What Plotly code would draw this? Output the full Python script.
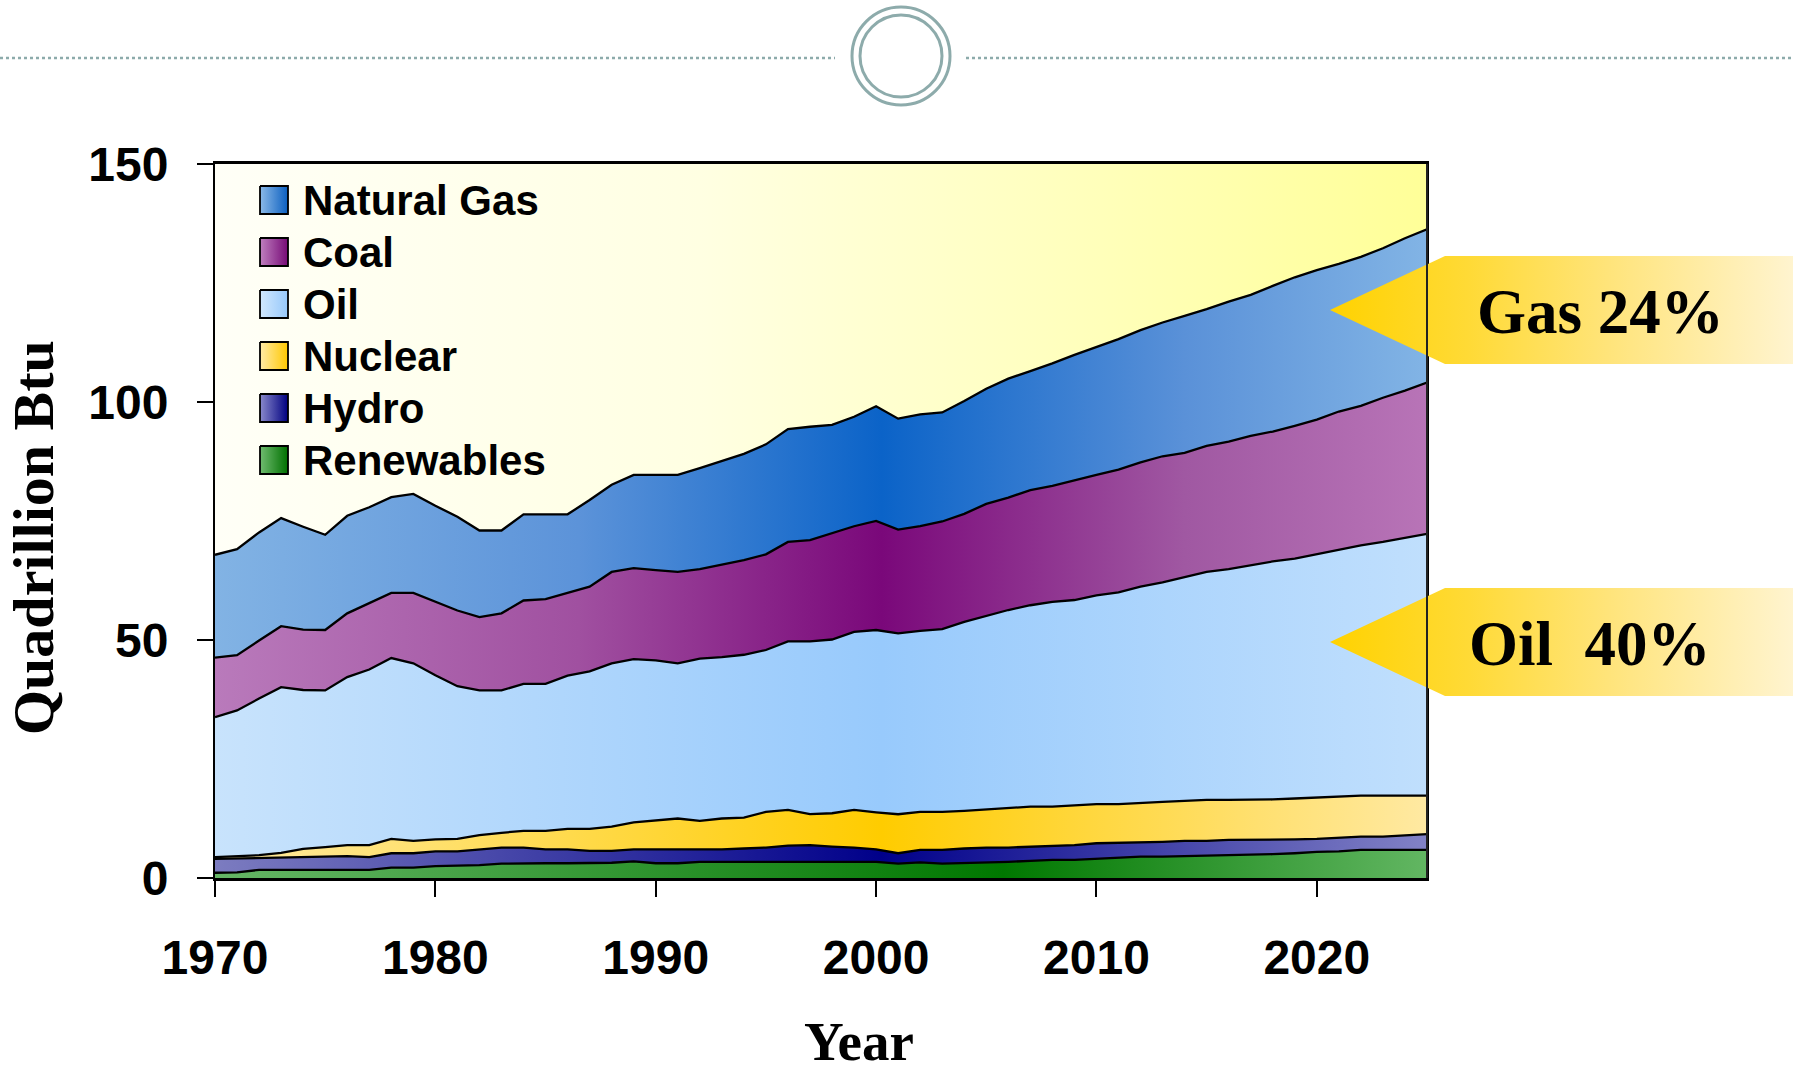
import plotly.graph_objects as go

W, H = 1793, 1071

# ---------------- data (Quadrillion Btu) ----------------
years = list(range(1970, 2026))

renewables = [1.1, 1.2, 1.7, 1.7, 1.7, 1.7, 1.7, 1.7, 2.2, 2.2,
              2.5, 2.6, 2.7, 3.0, 3.1, 3.1, 3.1, 3.1, 3.2, 3.5,
              3.1, 3.1, 3.4, 3.4, 3.4, 3.4, 3.4, 3.4, 3.4, 3.4,
              3.4, 3.0, 3.3, 3.0, 3.1, 3.3, 3.4, 3.6, 3.8, 3.8,
              4.0, 4.3, 4.5, 4.5, 4.6, 4.6, 4.7, 4.8, 5.0, 5.2,
              5.5, 5.6, 5.9, 5.9, 5.9, 5.9]

hydro = [2.9, 2.9, 2.6, 2.6, 2.8, 2.9, 2.9, 2.7, 3.0, 3.0,
         3.1, 3.0, 3.3, 3.4, 3.3, 2.9, 2.9, 2.6, 2.5, 2.5,
         2.9, 2.9, 2.6, 2.6, 2.8, 3.0, 3.4, 3.5, 3.2, 3.0,
         2.6, 2.2, 2.6, 2.9, 3.1, 3.1, 3.0, 3.0, 2.9, 3.1,
         3.3, 3.1, 2.9, 3.1, 3.2, 3.2, 3.3, 3.2, 3.1, 2.9,
         2.7, 2.9, 2.8, 2.8, 3.0, 3.3]

nuclear = [0.4, 0.5, 0.5, 1.0, 1.6, 1.9, 2.3, 2.5, 3.0, 2.6,
           2.5, 2.6, 3.0, 3.1, 3.5, 3.9, 4.3, 4.6, 5.1, 5.7,
           6.1, 6.5, 6.0, 6.5, 6.5, 7.5, 7.5, 6.5, 7.0, 7.9,
           7.8, 8.2, 8.0, 8.0, 7.9, 8.0, 8.3, 8.4, 8.3, 8.4,
           8.2, 8.1, 8.4, 8.4, 8.4, 8.6, 8.4, 8.4, 8.4, 8.6,
           8.7, 8.6, 8.6, 8.6, 8.4, 8.1]

oil = [29.4, 30.6, 32.9, 34.8, 33.4, 32.9, 35.3, 36.9, 38.0, 37.3,
       34.5, 32.1, 30.4, 29.9, 30.9, 30.9, 32.2, 33.1, 34.3, 34.3,
       33.6, 32.6, 34.1, 33.9, 34.2, 34.0, 35.4, 36.3, 36.5, 37.4,
       38.3, 38.0, 38.0, 38.4, 39.7, 40.7, 41.6, 42.3, 43.0, 43.1,
       43.9, 44.5, 45.4, 46.1, 47.0, 47.9, 48.5, 49.3, 50.0, 50.4,
       51.1, 51.9, 52.6, 53.3, 54.2, 55.0]

coal = [12.5, 11.6, 12.2, 12.8, 12.7, 12.7, 13.4, 13.9, 13.7, 14.8,
        15.4, 15.9, 15.4, 16.2, 17.5, 17.8, 17.4, 17.8, 19.2, 19.1,
        19.0, 19.2, 18.8, 19.4, 19.9, 20.1, 20.9, 21.3, 22.4, 22.2,
        22.9, 21.8, 22.0, 22.6, 22.7, 23.5, 23.6, 24.2, 24.4, 25.2,
        25.3, 25.8, 26.1, 26.5, 26.1, 26.5, 26.8, 27.2, 27.3, 27.9,
        28.3, 29.0, 29.3, 30.3, 30.9, 31.8]

natural_gas = [21.6, 22.3, 22.7, 22.7, 21.6, 20.0, 20.5, 20.2, 20.1, 20.8,
               20.2, 19.7, 18.2, 17.4, 18.1, 17.8, 16.5, 18.2, 18.3, 19.6,
               20.0, 20.4, 21.2, 21.8, 22.3, 23.1, 23.7, 23.8, 22.7, 23.0,
               24.1, 23.3, 23.5, 22.9, 23.7, 24.2, 25.0, 25.0, 25.7, 26.3,
               26.9, 27.4, 27.8, 28.1, 28.8, 28.7, 29.4, 29.6, 30.6, 31.2,
               31.4, 31.0, 31.3, 31.4, 32.0, 32.2]

series_names = ["Renewables", "Hydro", "Nuclear", "Oil", "Coal", "Natural Gas"]
series_values = [renewables, hydro, nuclear, oil, coal, natural_gas]

x_ticks = [1970, 1980, 1990, 2000, 2010, 2020]
y_ticks = [0, 50, 100, 150]

callout_texts = ["Gas 24%", "Oil\u00a0 40%"]

# ---------------- styles ----------------
gradients = {
    "Natural Gas": [[0, "#82B3E4"], [0.3, "#5C93D9"], [0.55, "#0B63C8"], [0.8, "#5A91D8"], [1, "#82B4E5"]],
    "Coal":        [[0, "#B97ABB"], [0.3, "#A050A0"], [0.55, "#7A087A"], [0.8, "#A058A2"], [1, "#B874B7"]],
    "Oil":         [[0, "#C8E3FC"], [0.55, "#98CAFC"], [1, "#C0DFFD"]],
    "Nuclear":     [[0, "#FFEAA2"], [0.55, "#FFCC00"], [1, "#FFE9A2"]],
    "Hydro":       [[0, "#7C7CC0"], [0.55, "#00008A"], [1, "#8282C6"]],
    "Renewables":  [[0, "#66B666"], [0.65, "#007800"], [1, "#62B662"]],
}
legend_gradients = {
    "Natural Gas": [[0, "#8CBAE8"], [1, "#0B5FC0"]],
    "Coal":        [[0, "#C080C0"], [1, "#760A76"]],
    "Oil":         [[0, "#D2E8FD"], [1, "#96C8FB"]],
    "Nuclear":     [[0, "#FFEBA8"], [1, "#FFC800"]],
    "Hydro":       [[0, "#8A8ACC"], [1, "#000080"]],
    "Renewables":  [[0, "#70BC70"], [1, "#007000"]],
}
bg_gradient = [[0, "#FFFFF7"], [0.4, "#FFFFE2"], [0.7, "#FFFFBE"], [1, "#FFFF98"]]
callout_gradient = [[0, "#FFD200"], [0.3, "#FFDA36"], [0.6, "#FFE47A"], [1, "#FFF4CF"]]

SANS = "Liberation Sans, Arial, sans-serif"
SERIF = "Liberation Serif, Times New Roman, serif"

# plot area in pixels
PX0, PX1, PY0, PY1 = 215, 1427, 164, 878

fig = go.Figure()

# plot-area background gradient
fig.add_trace(go.Scatter(
    x=[years[0], years[-1], years[-1], years[0], years[0]],
    y=[y_ticks[0], y_ticks[0], y_ticks[-1], y_ticks[-1], y_ticks[0]],
    fill="toself", mode="none", hoverinfo="skip", showlegend=False,
    fillgradient=dict(type="horizontal", colorscale=bg_gradient),
))

# stacked areas
for name, vals in zip(series_names, series_values):
    fig.add_trace(go.Scatter(
        x=years, y=vals, name=name, stackgroup="energy", mode="lines",
        line=dict(color="black", width=2.3),
        fillgradient=dict(type="horizontal", colorscale=gradients[name],
                          start=years[0], stop=years[-1]),
        hoverinfo="skip", showlegend=False,
    ))

# ---------- overlay (pixel) axis for decorations ----------
def px_trace(xs, ys, scale, start, stop, lw=0):
    return go.Scatter(
        x=xs, y=ys, xaxis="x2", yaxis="y2", fill="toself",
        mode="lines" if lw else "none",
        line=dict(color="black", width=lw) if lw else None,
        fillgradient=dict(type="horizontal", colorscale=scale, start=start, stop=stop),
        hoverinfo="skip", showlegend=False,
    )

annotations = []

# manual legend (top-to-bottom order reverses the stack)
for i, name in enumerate(reversed(series_names)):
    yc = 200 + i * 52
    fig.add_trace(px_trace([260, 288, 288, 260, 260], [yc - 14, yc - 14, yc + 14, yc + 14, yc - 14],
                           legend_gradients[name], 260, 288, lw=1.8))
    annotations.append(dict(x=301, y=yc, xref="x2", yref="y2", text=name, showarrow=False,
                            xanchor="left", yanchor="middle",
                            font=dict(family=SANS, size=42, color="black", weight="bold")))

# yellow arrow callouts
for text, yc, xc in zip(callout_texts, [310, 642], [1600, 1590]):
    hh = 54
    fig.add_trace(px_trace([1330, 1445, W, W, 1445, 1330],
                           [yc, yc - hh, yc - hh, yc + hh, yc + hh, yc],
                           callout_gradient, 1330, W))
    annotations.append(dict(x=xc, y=yc + 2, xref="x2", yref="y2", text=text, showarrow=False,
                            xanchor="center", yanchor="middle",
                            font=dict(family=SERIF, size=63, color="black", weight="bold")))

# axis titles
annotations.append(dict(x=859, y=1041, xref="x2", yref="y2", text="Year", showarrow=False,
                        xanchor="center", yanchor="middle",
                        font=dict(family=SERIF, size=55, color="black", weight="bold")))
annotations.append(dict(x=33, y=538, xref="x2", yref="y2", text="Quadrillion Btu", showarrow=False,
                        textangle=-90, xanchor="center", yanchor="middle",
                        font=dict(family=SERIF, size=58, color="black", weight="bold")))

deco = "#8DABAB"
shapes = [
    dict(type="line", xref="x2", yref="y2", x0=0, x1=835, y0=58, y1=58,
         line=dict(color=deco, width=2.5, dash="dot")),
    dict(type="line", xref="x2", yref="y2", x0=966, x1=W, y0=58, y1=58,
         line=dict(color=deco, width=2.5, dash="dot")),
    dict(type="circle", xref="x2", yref="y2", x0=901 - 49, x1=901 + 49, y0=56 - 49, y1=56 + 49,
         line=dict(color=deco, width=3)),
    dict(type="circle", xref="x2", yref="y2", x0=901 - 41, x1=901 + 41, y0=56 - 41, y1=56 + 41,
         line=dict(color=deco, width=3)),
    # right frame line drawn above callouts
    dict(type="line", xref="x2", yref="y2", x0=PX1, x1=PX1, y0=PY0, y1=PY1,
         line=dict(color="#222222", width=2), layer="above"),
]

axis_common = dict(showgrid=False, zeroline=False, ticks="outside", ticklen=16, tickwidth=2,
                   tickcolor="black", showline=True, linecolor="black", mirror=True,
                   tickfont=dict(family=SANS, size=48, color="black", weight="bold"),
                   fixedrange=True, automargin=False)

fig.update_layout(
    width=W, height=H,
    margin=dict(l=0, r=0, t=0, b=0, pad=0, autoexpand=False),
    paper_bgcolor="white", plot_bgcolor="rgba(0,0,0,0)",
    showlegend=False,
    xaxis=dict(domain=[PX0 / W, PX1 / W], range=[years[0], years[-1]], tickvals=x_ticks,
               linewidth=2.5, ticklabelstandoff=20, **axis_common),
    yaxis=dict(domain=[(H - PY1) / H, (H - PY0) / H], range=[y_ticks[0], y_ticks[-1]],
               tickvals=y_ticks, linewidth=2, ticklabelstandoff=19, **axis_common),
    xaxis2=dict(domain=[0, 1], range=[0, W], visible=False, anchor="y2",
                fixedrange=True, automargin=False),
    yaxis2=dict(domain=[0, 1], range=[H, 0], visible=False, anchor="x2",
                fixedrange=True, automargin=False),
    annotations=annotations,
    shapes=shapes,
)

fig.write_html("out.html", config={"displayModeBar": False},
               post_script="document.body.style.margin='0px';document.body.style.overflow='hidden';")
